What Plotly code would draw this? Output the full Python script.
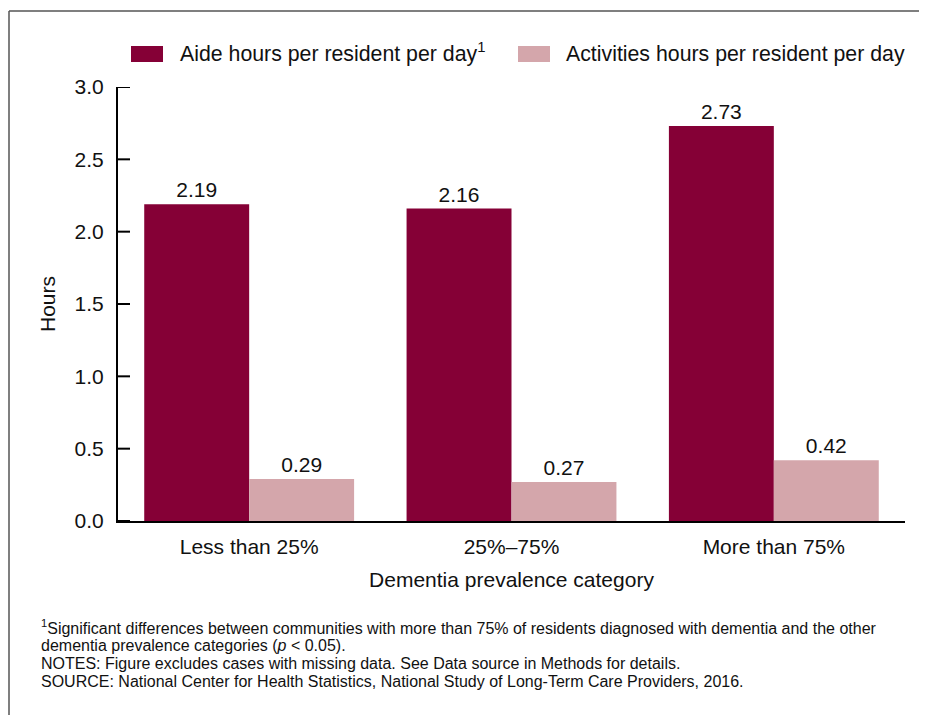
import plotly.graph_objects as go

categories = ["Less than 25%", "25%\u201375%", "More than 75%"]
aide_hours = [2.19, 2.16, 2.73]
activities_hours = [0.29, 0.27, 0.42]
series_names = ["Aide hours per resident per day<sup>1</sup>", "Activities hours per resident per day"]
y_ticks = [0.0, 0.5, 1.0, 1.5, 2.0, 2.5, 3.0]
footnotes = [
    "<sup>1</sup>Significant differences between communities with more than 75% of residents diagnosed with dementia and the other",
    "dementia prevalence categories (<i>p</i> &lt; 0.05).",
    "NOTES: Figure excludes cases with missing data. See Data source in Methods for details.",
    "SOURCE: National Center for Health Statistics, National Study of Long-Term Care Providers, 2016.",
]

AIDE_COLOR = "#850036"
ACT_COLOR = "#D4A6AB"
FONT = "Liberation Sans, Arial, sans-serif"
FS = 21

# page has an 8px body margin; work in page pixel coordinates
OFF = 8
PW, PH = 927, 715
W, H = PW - OFF, PH - OFF
pl, pr, pt, pb = 118, 905, 87, 521  # plot area in page pixels
ml, mt = pl - OFF, pt - OFF
mr, mb = W - (pr - OFF), H - (pb - OFF)
pw, ph = pr - pl, pb - pt


def px_x(x):
    return (x - pl) / pw


def px_y(y):
    return (pb - y) / ph


fig = go.Figure()
fig.add_trace(go.Bar(
    x=categories, y=aide_hours, name=series_names[0],
    marker=dict(color=AIDE_COLOR, line=dict(width=0)),
    text=[f"{v:.2f}" for v in aide_hours], textposition="outside",
    textfont=dict(size=FS, color="#111"), cliponaxis=False, showlegend=False,
))
fig.add_trace(go.Bar(
    x=categories, y=activities_hours, name=series_names[1],
    marker=dict(color=ACT_COLOR, line=dict(width=0)),
    text=[f"{v:.2f}" for v in activities_hours], textposition="outside",
    textfont=dict(size=FS, color="#111"), cliponaxis=False, showlegend=False,
))

shapes = [
    dict(type="line", xref="paper", yref="paper", x0=px_x(9), x1=px_x(960), y0=px_y(11), y1=px_y(11),
         line=dict(color="#555", width=1.5)),
    dict(type="line", xref="paper", yref="paper", x0=px_x(9), x1=px_x(9), y0=px_y(11), y1=px_y(760),
         line=dict(color="#555", width=1.5)),
    # legend keys
    dict(type="rect", xref="paper", yref="paper", x0=px_x(131), x1=px_x(163), y0=px_y(46), y1=px_y(62),
         fillcolor=AIDE_COLOR, line=dict(width=0)),
    dict(type="rect", xref="paper", yref="paper", x0=px_x(518), x1=px_x(550), y0=px_y(46), y1=px_y(62),
         fillcolor=ACT_COLOR, line=dict(width=0)),
]
# inward-pointing y tick marks, placed on the y scale
for t in y_ticks:
    shapes.append(dict(type="line", xref="paper", yref="y", x0=0, x1=12 / pw, y0=t, y1=t,
                       line=dict(color="black", width=2), layer="above"))

annotations = [
    dict(xref="paper", yref="paper", x=px_x(178), y=px_y(52), xanchor="left", yanchor="middle",
         showarrow=False, text=series_names[0], font=dict(size=21.3, color="#111")),
    dict(xref="paper", yref="paper", x=px_x(564), y=px_y(54), xanchor="left", yanchor="middle",
         showarrow=False, text=series_names[1], font=dict(size=21.3, color="#111")),
]
for i, line in enumerate(footnotes):
    annotations.append(dict(xref="paper", yref="paper", x=px_x(39), y=px_y(627 + 18 * i),
                            xanchor="left", yanchor="middle", align="left", showarrow=False,
                            text=line, font=dict(size=16, color="#111")))

fig.update_layout(
    width=W, height=H,
    margin=dict(l=ml, r=mr, t=mt, b=mb, autoexpand=False),
    paper_bgcolor="white", plot_bgcolor="white",
    font=dict(family=FONT, size=FS, color="#111"),
    barmode="group", bargap=0.2, bargroupgap=0,
    showlegend=False,
    xaxis=dict(
        showline=True, linecolor="black", linewidth=2,
        ticks="outside", ticklen=6, tickcolor="rgba(0,0,0,0)", showgrid=False, tickfont=dict(size=FS),
        title=dict(text="Dementia prevalence category", font=dict(size=FS), standoff=15),
        range=[-0.5, 2.5], fixedrange=True,
    ),
    yaxis=dict(
        range=[0, 3.0], tickvals=y_ticks, ticktext=[f"{v:.1f}" for v in y_ticks],
        showline=True, linecolor="black", linewidth=2,
        ticks="outside", ticklen=8, tickwidth=2, tickcolor="rgba(0,0,0,0)",
        showgrid=False, zeroline=False, tickfont=dict(size=FS),
        title=dict(text="Hours", font=dict(size=FS), standoff=13),
        fixedrange=True,
    ),
    shapes=shapes,
    annotations=annotations,
)

fig.write_html("out.html")
